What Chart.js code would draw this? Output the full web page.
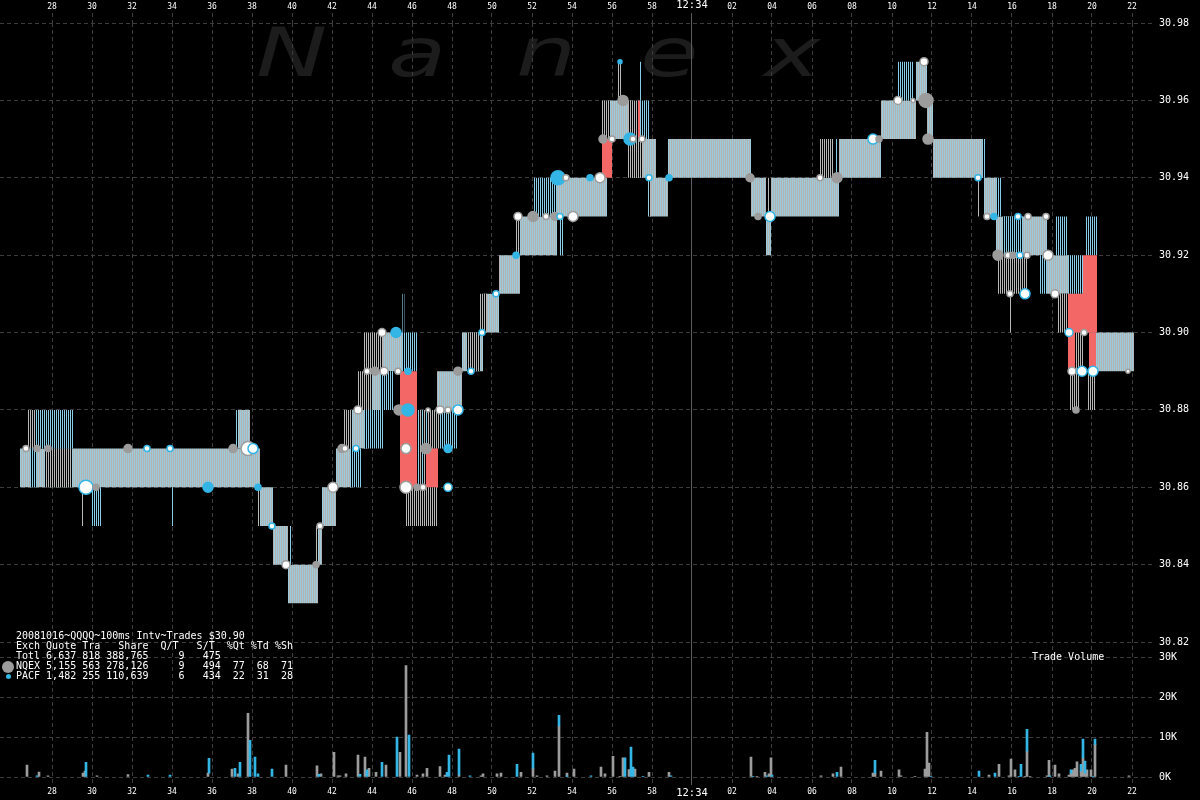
<!DOCTYPE html>
<html>
<head>
<meta charset="utf-8">
<script src="https://cdn.jsdelivr.net/npm/chart.js@4.4.1/dist/chart.umd.min.js"></script>
<style>
  html, body { margin: 0; padding: 0; background: #000; }
  #wrap { position: relative; width: 1200px; height: 800px; overflow: hidden; background: #000; }
  #wm span { position: absolute; top: 19px; font: italic 68px/68px "DejaVu Sans", sans-serif; color: #1c1c1c;
    transform: scaleX(1.4); transform-origin: left top; z-index: 0; }
  #c { position: absolute; left: 0; top: 0; z-index: 1; }
  .mono { position: absolute; margin: 0; font: 10px/10px "DejaVu Sans Mono", monospace; color: #fff; white-space: pre; z-index: 2; }
  .dot { position: absolute; border-radius: 50%; z-index: 2; }
</style>
</head>
<body>
<div id="wrap">
  <div id="wm">
    <span style="left:256px">N</span>
    <span style="left:388px">a</span>
    <span style="left:516px">n</span>
    <span style="left:640px">e</span>
    <span style="left:764px">x</span>
  </div>
  <canvas id="c" width="1200" height="800"></canvas>
  <pre class="mono" style="left:16px; top:631px">20081016~QQQQ~100ms Intv~Trades $30.90
Exch Quote Tra   Share  Q/T   S/T  %Qt %Td %Sh
Totl 6,637 818 388,765     9   475
NQEX 5,155 563 278,126     9   494  77  68  71
PACF 1,482 255 110,639     6   434  22  31  28</pre>
  <div class="dot" style="left:2px; top:661px; width:12px; height:12px; background:#9c9c9c"></div>
  <div class="dot" style="left:6px; top:674px; width:5px; height:5px; background:#33b5e5"></div>
  <pre class="mono" style="left:1032px; top:652px">Trade Volume</pre>
</div>
<script>
// time axis is seconds after 12:33:00
const xMin = 25.4, xMax = 83.15;
const xTicks = [28, 30, 32, 34, 36, 38, 40, 42, 44, 46, 48, 50, 52, 54, 56, 58, 60,
  62, 64, 66, 68, 70, 72, 74, 76, 78, 80, 82];
const priceTicks = [30.82, 30.84, 30.86, 30.88, 30.90, 30.92, 30.94, 30.96, 30.98];
const volTicks = [0, 5000, 10000, 15000, 20000, 25000, 30000];

// main bid / ask band (step changes)
const bandT = [26.4, 38.4, 39.05, 39.8, 41.3, 41.5, 42.2, 43.0, 43.8, 44.5, 45.5, 47.25,
  48.5, 49.55, 50.35, 51.4, 53.25, 55.75, 57.0, 57.8, 58.2, 58.8, 62.95, 63.7, 63.95,
  67.35, 69.45, 71.2, 71.75, 72.05, 74.6, 75.2, 77.75, 78.9, 80.2, 82.1];
const bandBid = [30.86, 30.85, 30.84, 30.83, 30.84, 30.85, 30.86, 30.87, 30.88, 30.89,
  30.87, 30.88, 30.89, 30.90, 30.91, 30.92, 30.93, 30.95, 30.94, 30.93, 30.93, 30.94,
  30.93, 30.92, 30.93, 30.94, 30.95, 30.96, 30.95, 30.94, 30.93, 30.92, 30.91, 30.90,
  30.89, 30.89];
const bandAsk = [30.87, 30.86, 30.85, 30.84, 30.85, 30.86, 30.87, 30.88, 30.89, 30.90,
  30.88, 30.89, 30.90, 30.91, 30.92, 30.93, 30.94, 30.96, 30.95, 30.95, 30.94, 30.95,
  30.94, 30.93, 30.94, 30.95, 30.96, 30.97, 30.96, 30.95, 30.94, 30.93, 30.92, 30.91,
  30.90, 30.90];

// flickering quote ranges [from, to, low, high]
const bandExtra = [[37.3, 37.9, 30.87, 30.88]];
const stripesGray = [
  [26.8, 27.2, 30.87, 30.88], [27.65, 29.0, 30.86, 30.87], [29.5, 29.6, 30.85, 30.86],
  [38.3, 38.4, 30.85, 30.86], [41.2, 41.3, 30.84, 30.85], [42.6, 43.0, 30.87, 30.88],
  [43.3, 44.0, 30.88, 30.89], [43.6, 44.55, 30.89, 30.90], [45.65, 47.25, 30.85, 30.86],
  [46.75, 47.4, 30.87, 30.88], [48.75, 49.4, 30.89, 30.90], [49.4, 49.75, 30.90, 30.91],
  [51.2, 51.4, 30.92, 30.93], [55.5, 55.9, 30.95, 30.96], [56.3, 56.45, 30.96, 30.97],
  [56.8, 57.3, 30.95, 30.96], [56.8, 57.55, 30.94, 30.95], [57.85, 57.95, 30.93, 30.94],
  [63.8, 63.9, 30.93, 30.94], [66.4, 67.05, 30.94, 30.95], [74.3, 74.4, 30.93, 30.94],
  [75.3, 76.75, 30.91, 30.92], [75.9, 76.0, 30.90, 30.91], [78.3, 78.8, 30.90, 30.91],
  [78.9, 79.4, 30.88, 30.89], [79.15, 79.55, 30.89, 30.90], [79.8, 80.15, 30.88, 30.89]
];
const stripesBlue = [
  [27.2, 29.05, 30.87, 30.88], [26.9, 27.25, 30.86, 30.87], [29.95, 30.5, 30.85, 30.86],
  [33.95, 34.05, 30.85, 30.86], [37.15, 37.3, 30.87, 30.88], [39.9, 40.0, 30.84, 30.85],
  [42.9, 43.5, 30.86, 30.87], [43.6, 44.6, 30.87, 30.88], [44.4, 45.05, 30.88, 30.89],
  [45.5, 46.25, 30.89, 30.90], [45.52, 45.62, 30.90, 30.91], [47.4, 48.3, 30.87, 30.88],
  [52.05, 53.25, 30.93, 30.94], [53.4, 53.55, 30.92, 30.93], [57.3, 57.9, 30.95, 30.96],
  [57.4, 57.5, 30.96, 30.97], [67.2, 67.3, 30.94, 30.95], [70.25, 70.75, 30.96, 30.97],
  [70.8, 71.05, 30.96, 30.97], [74.5, 74.65, 30.94, 30.95], [75.2, 75.5, 30.93, 30.94],
  [75.55, 76.55, 30.92, 30.93], [77.35, 77.75, 30.91, 30.92], [78.15, 78.75, 30.92, 30.93],
  [78.8, 79.55, 30.91, 30.92], [79.65, 80.25, 30.92, 30.93]
];
const stripesMixed = [[46.25, 46.75, 30.86, 30.88]];
const crossed = [
  [45.4, 46.25, 30.86, 30.89], [46.7, 47.3, 30.86, 30.87], [55.5, 56.0, 30.94, 30.95],
  [57.3, 57.4, 30.95, 30.96], [78.8, 79.15, 30.89, 30.91], [79.15, 79.55, 30.90, 30.91],
  [79.55, 80.25, 30.90, 30.92], [79.85, 80.2, 30.89, 30.90]
];

// trades [time, price, radius, kind]  n=NQEX p=PACF w=white/gray wb=white/blue
const trades = [
  [26.7, 30.87, 3, 'w'], [27.25, 30.87, 3, 'n'], [27.8, 30.87, 3, 'n'], [29.7, 30.86, 7, 'wb'],
  [30.2, 30.86, 3, 'n'], [31.8, 30.87, 4, 'n'], [32.75, 30.87, 3, 'wb'], [33.9, 30.87, 3, 'wb'],
  [35.8, 30.86, 5, 'p'], [37.05, 30.87, 4, 'n'], [37.8, 30.87, 7, 'w'], [38.05, 30.87, 5, 'wb'],
  [38.3, 30.86, 3, 'p'], [39.0, 30.85, 3, 'wb'], [39.7, 30.84, 4, 'w'], [41.2, 30.84, 3, 'n'],
  [41.4, 30.85, 3, 'w'], [42.05, 30.86, 5, 'w'], [42.5, 30.87, 4, 'n'], [42.65, 30.87, 3, 'w'],
  [43.2, 30.87, 3, 'wb'], [43.3, 30.88, 4, 'w'], [43.75, 30.89, 3, 'w'], [44.15, 30.89, 4, 'n'],
  [44.6, 30.89, 4, 'w'], [44.5, 30.90, 4, 'w'], [45.2, 30.90, 5, 'p'], [45.3, 30.89, 3, 'w'],
  [45.8, 30.89, 3, 'p'], [45.35, 30.88, 5, 'n'], [45.8, 30.88, 6, 'p'], [45.7, 30.87, 5, 'w'],
  [45.7, 30.86, 6, 'w'], [46.25, 30.86, 3, 'n'], [46.55, 30.86, 3, 'w'], [46.7, 30.87, 5, 'n'],
  [46.8, 30.88, 2, 'w'], [47.4, 30.88, 4, 'w'], [47.8, 30.88, 3, 'w'], [48.3, 30.88, 5, 'wb'],
  [47.8, 30.87, 4, 'p'], [47.8, 30.86, 4, 'wb'], [48.3, 30.89, 4, 'n'], [48.95, 30.89, 3, 'wb'],
  [49.5, 30.90, 3, 'wb'], [50.2, 30.91, 3, 'wb'], [51.2, 30.92, 3, 'p'], [51.3, 30.93, 4, 'w'],
  [52.05, 30.93, 5, 'n'], [52.7, 30.93, 3, 'w'], [53.15, 30.93, 4, 'n'], [53.4, 30.93, 3, 'wb'],
  [54.05, 30.93, 5, 'w'], [53.3, 30.94, 7, 'p'], [53.7, 30.94, 3, 'w'], [54.9, 30.94, 3, 'p'],
  [55.4, 30.94, 5, 'w'], [55.55, 30.95, 4, 'n'], [56.0, 30.95, 3, 'w'], [56.4, 30.97, 2, 'p'],
  [56.55, 30.96, 5, 'n'], [56.9, 30.95, 6, 'p'], [57.05, 30.95, 3, 'w'], [57.5, 30.95, 3, 'w'],
  [57.85, 30.94, 3, 'wb'], [58.85, 30.94, 3, 'p'], [62.9, 30.94, 4, 'n'], [63.3, 30.93, 3, 'n'],
  [63.9, 30.93, 5, 'wb'], [66.4, 30.94, 3, 'w'], [67.25, 30.94, 5, 'n'], [69.05, 30.95, 5, 'wb'],
  [69.35, 30.95, 3, 'n'], [70.3, 30.96, 4, 'w'], [71.05, 30.96, 2, 'w'], [71.7, 30.96, 7, 'n'],
  [71.6, 30.97, 4, 'w'], [71.8, 30.95, 5, 'n'], [74.3, 30.94, 3, 'wb'], [74.75, 30.93, 3, 'w'],
  [75.1, 30.93, 3, 'p'], [76.3, 30.93, 3, 'wb'], [76.8, 30.93, 3, 'w'], [77.7, 30.93, 3, 'w'],
  [75.3, 30.92, 5, 'n'], [75.8, 30.92, 3, 'w'], [76.05, 30.92, 3, 'n'], [76.4, 30.92, 3, 'wb'],
  [76.75, 30.92, 3, 'w'], [77.8, 30.92, 5, 'w'], [75.9, 30.91, 3, 'w'], [76.65, 30.91, 5, 'wb'],
  [78.15, 30.91, 4, 'w'], [78.85, 30.90, 4, 'wb'], [79.6, 30.90, 3, 'w'], [79.0, 30.89, 4, 'w'],
  [79.5, 30.89, 5, 'wb'], [80.05, 30.89, 5, 'wb'], [79.2, 30.88, 3, 'n'], [81.8, 30.89, 2, 'w']
];

// trade volume per 100ms, NQEX (gray) [time, shares]
const volNqex = [
  [26.75, 3000], [27.35, 1250], [27.8, 300], [29.55, 1000], [29.65, 1500], [30.25, 300],
  [31.8, 600], [35.8, 1000], [37.0, 2000], [37.3, 800], [37.8, 16000], [39.7, 3000],
  [41.25, 2800], [41.45, 800], [42.1, 6200], [42.3, 300], [42.4, 300], [42.7, 800],
  [43.3, 5500], [43.65, 5000], [43.85, 2200], [44.2, 1200], [44.7, 3000], [45.4, 6200],
  [45.7, 28000], [46.25, 500], [46.55, 800], [46.75, 2200], [47.4, 2600], [47.65, 500],
  [48.35, 500], [49.45, 300], [49.55, 800], [50.25, 800], [50.45, 1000], [51.45, 1200],
  [52.05, 2200], [52.25, 300], [52.75, 300], [53.15, 1500], [53.35, 12800], [53.75, 1000],
  [54.1, 2000], [55.45, 2500], [55.65, 800], [56.05, 5200], [56.4, 200], [56.55, 4800],
  [56.85, 1900], [57.15, 2000], [57.85, 1200], [58.85, 1200], [62.95, 5000], [63.25, 200],
  [63.65, 1200], [63.85, 800], [63.95, 4800], [66.45, 300], [67.05, 800], [67.45, 2500],
  [69.05, 1000], [69.15, 1000], [69.45, 1500], [70.35, 1800], [70.45, 300], [71.15, 200],
  [71.65, 2000], [71.75, 11200], [71.85, 3500], [74.85, 500], [75.35, 3200], [75.85, 300],
  [75.95, 4500], [76.15, 1800], [76.65, 200], [76.75, 6500], [76.9, 200], [77.75, 300],
  [77.85, 4200], [78.15, 3000], [78.35, 800], [78.85, 500], [78.95, 1000], [79.05, 1800],
  [79.15, 2200], [79.25, 3800], [79.45, 1500], [79.55, 4800], [79.65, 1000], [79.75, 1800],
  [79.95, 1800], [80.15, 8200], [81.85, 300]
];
// PACF (blue) [time, from, to]
const volPacf = [
  [27.25, 0, 300], [29.7, 0, 3700], [32.8, 0, 500], [33.9, 0, 500], [35.85, 1000, 4700],
  [37.15, 0, 2200], [37.4, 0, 3700], [37.9, 0, 9200], [38.15, 0, 5000], [38.3, 0, 800],
  [39.0, 0, 2000], [41.35, 0, 700], [43.4, 0, 700], [43.75, 0, 1800], [44.5, 0, 3700],
  [45.25, 0, 10000], [45.85, 0, 10500], [47.75, 0, 1200], [47.85, 0, 5500], [48.35, 500, 7000],
  [48.9, 0, 300], [51.25, 0, 3200], [52.05, 2200, 6000], [53.35, 12800, 15500], [53.75, 0, 300],
  [54.95, 0, 300], [56.65, 0, 4800], [56.95, 0, 7500], [57.05, 0, 2500], [57.55, 0, 200],
  [58.95, 0, 300], [63.05, 0, 200], [63.75, 0, 300], [64.0, 0, 500], [67.25, 0, 1200],
  [69.15, 1000, 4200], [71.95, 0, 200], [74.35, 0, 1500], [75.15, 0, 1000], [76.35, 0, 200],
  [76.45, 0, 3200], [76.75, 6500, 12000], [77.9, 0, 300], [78.95, 1000, 1800], [79.45, 1500, 3200],
  [79.55, 4800, 9500], [79.65, 1000, 4000], [80.05, 0, 200], [80.15, 8200, 9500]
];

const MONO = '"DejaVu Sans Mono", monospace';
const GRID = '#3d3d3d';
const BLUE = '#33b5e5';
const GRAY = '#9c9c9c';

const canvas = document.getElementById('c');
const ctx2d = canvas.getContext('2d');

function pattern(cols) {
  const c = document.createElement('canvas');
  c.width = cols.length;
  c.height = 1;
  const g = c.getContext('2d');
  cols.forEach((col, i) => { g.fillStyle = col; g.fillRect(i, 0, 1, 1); });
  return ctx2d.createPattern(c, 'repeat');
}
const bandFill = pattern(['#9ccbdc', '#b2b2b2']);
const grayLines = pattern(['#b8b8b8', '#000000']);
const blueLines = pattern(['#87cde8', '#000000']);
const mixedLines = pattern(['#b8b8b8', '#000000', '#87cde8', '#000000']);

// each range becomes a closed rectangle, separated by a gap point
function rects(list) {
  const pts = [];
  list.forEach(([t0, t1, lo, hi]) => {
    pts.push({x: t0, y: lo}, {x: t0, y: hi}, {x: t1, y: hi}, {x: t1, y: lo}, {x: t1, y: null});
  });
  return pts;
}

function shapeSet(list, bg) {
  return {
    type: 'line', data: rects(list), fill: 'shape', backgroundColor: bg,
    borderColor: 'rgba(0,0,0,0)', borderWidth: 0, pointRadius: 0, spanGaps: false,
    xAxisID: 'x', yAxisID: 'y'
  };
}

const fillOf = {n: GRAY, p: BLUE, w: '#ffffff', wb: '#ffffff'};
const edgeOf = {n: GRAY, p: BLUE, w: GRAY, wb: BLUE};

function timeLabel(v) {
  if (v === 60) return '12:34';
  return String(v > 60 ? v - 60 : v).padStart(2, '0');
}
const tickFont = c => (c.tick && c.tick.value === 60)
  ? {family: MONO, size: 10.5, lineHeight: 1}
  : {family: MONO, size: 8, lineHeight: 1};
const vGrid = c => (c.tick && c.tick.value === 60) ? '#5c5c5c' : GRID;
const vDash = c => (c.tick && c.tick.value === 60) ? [] : [4, 3];

new Chart(canvas, {
  type: 'line',
  data: {
    datasets: [
      {
        type: 'line', showLine: false, xAxisID: 'x', yAxisID: 'y',
        data: trades.map(d => ({x: d[0], y: d[1]})),
        pointRadius: trades.map(d => d[2]),
        pointBackgroundColor: trades.map(d => fillOf[d[3]]),
        pointBorderColor: trades.map(d => edgeOf[d[3]]),
        pointBorderWidth: 1.5
      },
      shapeSet(crossed, '#f36767'),
      shapeSet(stripesMixed, mixedLines),
      shapeSet(stripesBlue, blueLines),
      shapeSet(stripesGray, grayLines),
      shapeSet(bandExtra, bandFill),
      {
        type: 'line', xAxisID: 'x', yAxisID: 'y', stepped: true, fill: '+1',
        data: bandT.map((t, i) => ({x: t, y: bandAsk[i]})),
        backgroundColor: bandFill, borderColor: 'rgba(0,0,0,0)', borderWidth: 0, pointRadius: 0
      },
      {
        type: 'line', xAxisID: 'x', yAxisID: 'y', stepped: true, fill: false,
        data: bandT.map((t, i) => ({x: t, y: bandBid[i]})),
        borderColor: 'rgba(0,0,0,0)', borderWidth: 0, pointRadius: 0
      },
      {
        type: 'bar', xAxisID: 'x', yAxisID: 'yv', grouped: false, barThickness: 2,
        data: volPacf.map(d => ({x: d[0], y: [d[1], d[2]]})),
        backgroundColor: BLUE
      },
      {
        type: 'bar', xAxisID: 'x', yAxisID: 'yv', grouped: false, barThickness: 2,
        data: volNqex.map(d => ({x: d[0], y: d[1]})),
        backgroundColor: GRAY
      }
    ]
  },
  options: {
    responsive: false,
    animation: false,
    events: [],
    layout: {padding: 0, autoPadding: false},
    plugins: {legend: {display: false}, tooltip: {enabled: false}},
    scales: {
      x: {
        type: 'linear', position: 'bottom', min: xMin, max: xMax, offset: false,
        afterBuildTicks: s => { s.ticks = xTicks.map(v => ({value: v})); },
        afterFit: s => { s.height = 15; },
        ticks: {color: '#fff', padding: 3, maxRotation: 0, autoSkip: false, font: tickFont, callback: timeLabel},
        grid: {color: vGrid, drawTicks: false, offset: false},
        border: {display: false, dash: vDash}
      },
      x2: {
        type: 'linear', position: 'top', min: xMin, max: xMax, offset: false,
        afterBuildTicks: s => { s.ticks = xTicks.map(v => ({value: v})); },
        afterFit: s => { s.height = 23; },
        ticks: {color: '#fff', padding: 2, maxRotation: 0, autoSkip: false, font: tickFont, callback: timeLabel},
        grid: {drawOnChartArea: false, drawTicks: true, tickLength: 10, offset: false,
          tickColor: vGrid, tickBorderDash: vDash},
        border: {display: false}
      },
      y: {
        type: 'linear', position: 'right', stack: 'panes', stackWeight: 634.5,
        min: 30.816, max: 30.98,
        afterBuildTicks: s => { s.ticks = priceTicks.map(v => ({value: v})); },
        afterFit: s => { s.width = 45; },
        ticks: {color: '#fff', padding: 4, font: {family: MONO, size: 10}, callback: v => v.toFixed(2)},
        grid: {color: GRID, drawTicks: false},
        border: {display: false, dash: [4, 3]}
      },
      yv: {
        type: 'linear', position: 'right', stack: 'panes', stackWeight: 127.5,
        min: -2000, max: 30000,
        afterBuildTicks: s => { s.ticks = volTicks.map(v => ({value: v})); },
        afterFit: s => { s.width = 45; },
        ticks: {color: '#fff', padding: 4, font: {family: MONO, size: 10}, callback: v => (v / 1000) + 'K'},
        grid: {color: GRID, drawTicks: false},
        border: {display: false, dash: [4, 3]}
      }
    }
  }
});
</script>
</body>
</html>
